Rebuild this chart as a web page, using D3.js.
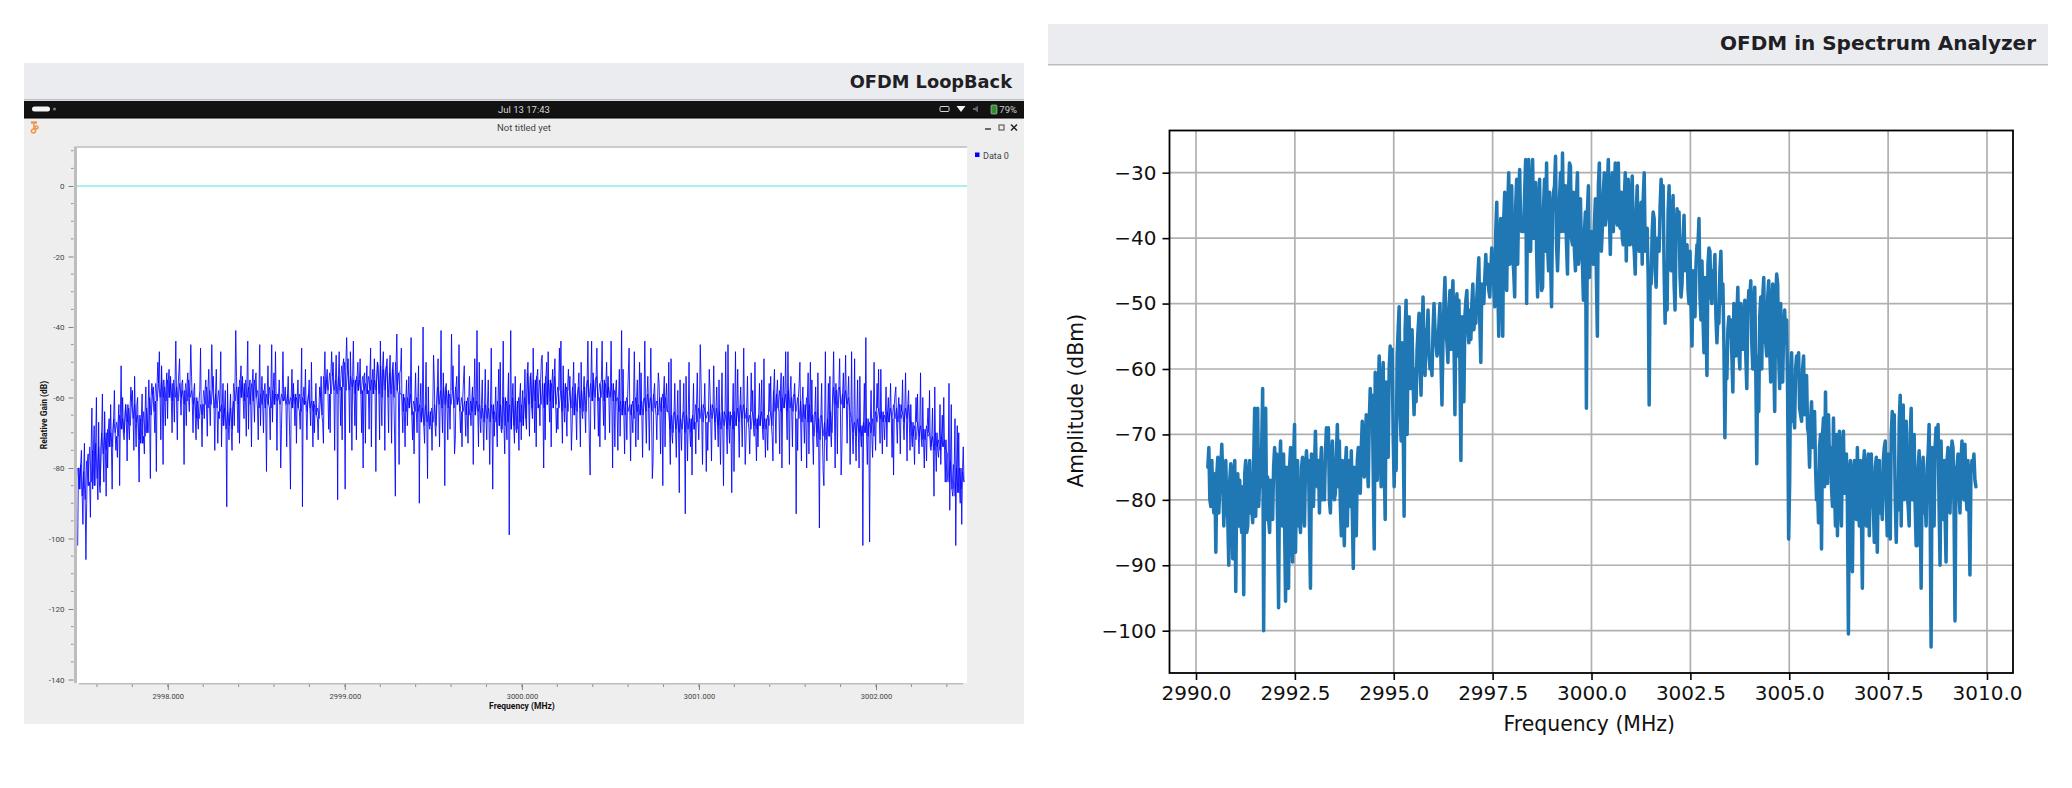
<!DOCTYPE html>
<html>
<head>
<meta charset="utf-8">
<title>OFDM spectra</title>
<script src="https://cdn.jsdelivr.net/npm/d3@7/dist/d3.min.js"></script>
<style>
html,body{margin:0;padding:0;background:#fff;}
svg{display:block;}
text{font-family:"DejaVu Sans",sans-serif;}
</style>
</head>
<body>
<svg id="page" width="2072" height="788"></svg>
<script>
// Loopback capture, one group of four samples per 3 px of trace (dB):
// spike top, lower edge of the dense band, dip bottom, upper edge of the dense band
const loopbackPeaks = [
-80,-75,-73,-76,-63,-68,-60,-67,-59,-64,
-66,-62,-58,-62,-51,-60,-62,-57,-58,-54,
-60,-59,-57,-55,-56,-57,-50,-47,-51,-53,
-52,-54,-44,-53,-49,-55,-53,-45,-54,-56,
-58,-46,-55,-52,-45,-54,-52,-47,-56,-58,
-56,-59,-41,-54,-51,-54,-44,-55,-52,-53,
-45,-54,-56,-51,-45,-53,-47,-55,-47,-57,
-54,-52,-56,-55,-46,-57,-52,-55,-50,-56,
-57,-54,-47,-52,-47,-50,-48,-47,-49,-43,
-49,-47,-44,-50,-49,-53,-51,-46,-52,-49,
-51,-44,-47,-49,-48,-50,-42,-52,-46,-55,
-54,-43,-53,-51,-56,-40,-50,-57,-48,-55,
-49,-41,-53,-56,-42,-51,-54,-45,-55,-51,
-54,-57,-49,-41,-50,-55,-52,-55,-46,-57,
-52,-50,-44,-53,-41,-56,-54,-56,-58,-52,
-50,-53,-46,-52,-49,-48,-50,-47,-52,-49,
-46,-44,-51,-52,-54,-50,-56,-53,-50,-54,
-44,-44,-53,-46,-55,-44,-50,-54,-44,-55,
-52,-41,-52,-53,-46,-47,-55,-50,-53,-44,
-54,-46,-56,-53,-56,-54,-56,-50,-49,-56,
-58,-55,-56,-54,-50,-56,-53,-45,-55,-56,
-52,-58,-51,-57,-55,-53,-47,-45,-56,-47,
-52,-57,-46,-54,-53,-58,-50,-56,-55,-49,
-56,-54,-52,-55,-53,-54,-47,-47,-54,-56,
-56,-50,-57,-53,-50,-55,-57,-53,-56,-47,
-56,-54,-47,-56,-49,-53,-48,-54,-47,-49,
-55,-54,-56,-43,-58,-50,-56,-52,-52,-57,
-60,-56,-59,-57,-60,-55,-53,-58,-62,-60,
-59,-53,-60,-63,-58,-63,-57,-62,-65,-60,
-56,-62,-66,-68,-70,-74];
const loopbackBandLow = [
-86,-88,-89,-85,-84,-85,-83,-85,-76,-75,
-74,-74,-70,-71,-69,-70,-67,-68,-66,-67,
-72,-73,-71,-70,-65,-64,-61,-60,-60,-61,
-60,-61,-60,-61,-60,-62,-61,-60,-62,-66,
-66,-65,-62,-63,-62,-63,-63,-64,-68,-69,
-68,-69,-61,-62,-60,-61,-60,-62,-61,-60,
-63,-62,-63,-62,-63,-62,-61,-62,-61,-62,
-62,-63,-62,-63,-64,-62,-64,-63,-64,-65,
-66,-65,-59,-58,-59,-58,-59,-58,-57,-58,
-58,-57,-59,-58,-59,-58,-59,-58,-59,-58,
-59,-60,-58,-60,-59,-60,-58,-59,-64,-64,
-63,-65,-64,-64,-67,-68,-67,-68,-67,-68,
-62,-63,-62,-63,-62,-63,-62,-64,-64,-65,
-65,-64,-65,-64,-66,-67,-66,-67,-66,-67,
-68,-69,-68,-67,-69,-68,-69,-67,-68,-66,
-62,-63,-61,-63,-62,-63,-62,-61,-63,-62,
-63,-64,-63,-64,-63,-65,-64,-63,-64,-64,
-60,-61,-60,-61,-60,-61,-60,-60,-61,-61,
-64,-65,-65,-64,-65,-66,-64,-65,-65,-64,
-63,-64,-63,-65,-64,-63,-64,-69,-70,-69,
-70,-69,-70,-69,-70,-69,-67,-66,-67,-66,
-67,-66,-67,-68,-69,-68,-69,-68,-69,-68,
-67,-66,-66,-67,-69,-68,-69,-68,-69,-69,
-68,-68,-64,-63,-64,-63,-64,-63,-64,-64,
-66,-67,-66,-67,-67,-71,-70,-72,-71,-72,
-71,-70,-62,-63,-62,-63,-62,-64,-70,-71,
-70,-71,-70,-71,-70,-71,-67,-66,-67,-67,
-67,-66,-66,-67,-66,-67,-66,-67,-71,-72,
-71,-72,-72,-71,-74,-75,-74,-75,-74,-75,
-84,-86,-88,-87,-86,-84];
const loopbackDips = [
-102,-96,-106,-90,-94,-86,-89,-87,-84,-88,
-80,-86,-75,-77,-85,-72,-78,-72,-75,-74,
-84,-73,-76,-70,-83,-70,-81,-72,-79,-68,
-66,-70,-67,-72,-65,-79,-68,-64,-70,-72,
-69,-74,-66,-71,-68,-75,-73,-66,-74,-91,
-72,-75,-68,-70,-73,-66,-71,-69,-74,-67,
-72,-68,-70,-81,-72,-67,-75,-80,-69,-74,
-71,-86,-68,-73,-69,-91,-72,-68,-74,-70,
-72,-67,-73,-69,-70,-75,-89,-68,-72,-86,
-70,-75,-68,-72,-70,-80,-73,-69,-74,-81,
-72,-68,-75,-70,-73,-71,-88,-79,-70,-74,
-68,-72,-76,-70,-90,-73,-83,-69,-75,-71,
-74,-70,-85,-72,-69,-76,-72,-70,-74,-71,
-73,-68,-79,-74,-70,-75,-72,-79,-86,-71,
-74,-70,-76,-72,-99,-73,-70,-75,-72,-69,
-71,-66,-70,-74,-68,-80,-72,-67,-74,-70,
-69,-73,-67,-71,-75,-68,-72,-74,-66,-70,
-73,-82,-69,-71,-74,-68,-72,-70,-80,-74,
-75,-71,-76,-72,-78,-70,-74,-72,-77,-73,
-75,-83,-78,-72,-76,-85,-74,-79,-73,-77,
-87,-75,-93,-78,-74,-82,-76,-72,-79,-81,
-75,-78,-72,-74,-79,-85,-76,-73,-87,-81,
-77,-74,-79,-72,-76,-71,-78,-74,-72,-77,
-75,-71,-78,-73,-76,-80,-72,-79,-74,-93,
-75,-78,-73,-80,-76,-79,-74,-97,-81,-85,
-78,-74,-80,-76,-82,-75,-73,-79,-76,-78,
-80,-74,-102,-79,-101,-77,-75,-73,-76,-72,
-74,-77,-82,-73,-76,-72,-78,-75,-74,-79,
-76,-74,-80,-78,-75,-88,-81,-77,-79,-84,
-83,-92,-85,-102,-90,-96];
const loopbackBandHigh = [
-80,-79,-81,-78,-74,-75,-73,-74,-70,-70,
-69,-70,-66,-67,-65,-66,-62,-63,-61,-62,
-65,-66,-64,-63,-60,-59,-56,-56,-55,-57,
-55,-56,-55,-57,-56,-58,-56,-55,-58,-60,
-61,-62,-58,-57,-58,-57,-59,-58,-62,-63,
-64,-63,-56,-57,-55,-56,-55,-57,-56,-55,
-58,-59,-58,-59,-57,-58,-59,-60,-59,-60,
-59,-60,-59,-60,-59,-60,-61,-59,-61,-62,
-63,-60,-54,-55,-53,-54,-55,-54,-51,-50,
-52,-54,-55,-54,-55,-54,-56,-54,-55,-55,
-50,-51,-52,-51,-53,-52,-50,-53,-59,-60,
-60,-59,-61,-60,-62,-63,-62,-64,-63,-62,
-57,-58,-57,-58,-59,-58,-57,-60,-60,-61,
-60,-61,-60,-61,-62,-63,-62,-63,-62,-64,
-61,-62,-60,-61,-62,-60,-61,-60,-62,-60,
-53,-54,-55,-54,-55,-56,-54,-55,-56,-54,
-57,-58,-56,-57,-58,-57,-59,-57,-58,-57,
-55,-56,-55,-54,-56,-55,-56,-57,-56,-58,
-60,-61,-61,-60,-62,-61,-60,-62,-61,-60,
-59,-60,-59,-61,-60,-59,-60,-64,-65,-64,
-65,-66,-64,-65,-66,-65,-62,-63,-62,-63,
-64,-62,-63,-63,-64,-64,-65,-64,-65,-64,
-63,-62,-62,-63,-65,-64,-66,-65,-64,-66,
-65,-64,-58,-59,-58,-60,-59,-58,-60,-59,
-60,-61,-62,-60,-62,-65,-64,-66,-65,-67,
-66,-64,-57,-58,-57,-59,-58,-60,-66,-67,
-66,-68,-67,-66,-67,-66,-64,-63,-64,-65,
-64,-63,-62,-63,-62,-64,-63,-62,-67,-68,
-67,-68,-69,-68,-70,-71,-70,-72,-71,-72,
-76,-78,-79,-80,-80,-81];
const loopbackStart = 2997.491, loopbackEnd = 3002.497;
const loopbackXTicks = [2998,2999,3000,3001,3002];
const loopbackYTicks = [0,-20,-40,-60,-80,-100,-120,-140];
const referenceGain = 0;

// Spectrum analyzer sweep, one group of four samples per 4 px of trace (dBm)
const analyzerPeaks = [
-72,-74,-73.5,-71.5,-74,-74.5,-74,-76,-77,-74,
-74,-66,-66,-63,-66,-76.5,-72,-73,-71,-73,
-72,-68.5,-74,-73.5,-72.5,-74,-73,-69.5,-72,-69,
-69,-71,-68.5,-71,-72,-74,-72.5,-72,-68,-67,
-63,-64,-60.5,-58,-59,-56.5,-57,-54,-50.5,-49.5,
-52,-54,-54,-51.5,-49,-51,-50,-54,-50,-46,
-48,-46.5,-48.5,-49.5,-49.5,-48,-47,-46,-43,-42.5,
-44,-41.5,-34.5,-37,-33,-30,-32,-31,-29.5,-28,
-28,-28,-31.5,-31,-31,-28.5,-33,-27.5,-30,-27,
-28.5,-29,-30,-34,-36,-32,-39,-34,-28.5,-30,
-28,-30,-28.5,-28.5,-30,-31,-30.5,-32,-34.5,-30,
-38.5,-36,-37,-31,-32,-32,-33.5,-35.5,-36,-36.5,
-41,-42,-41,-37,-43.5,-41.5,-42,-42.5,-42,-47,
-52,-52.5,-50,-47.5,-49.5,-48,-46.5,-47.5,-49,-46,
-46.5,-47,-45.5,-47,-51,-52.5,-57.5,-58,-57.5,-58,
-61,-65,-66.5,-70,-67.5,-63.5,-72,-67.5,-69.5,-69.5,
-73,-74,-74,-72,-72.5,-73,-73,-73.5,-74,-72,
-71,-66.5,-67,-64,-65.5,-68,-66,-70,-72.5,-73.5,
-73,-68.5,-69,-68.5,-71,-72,-71,-72,-73,-71,
-71.5,-74,-73];
const analyzerBandLow = [
-80,-80,-82,-77,-81,-83,-82,-84,-83,-85,
-82,-81,-81,-77,-83,-83,-81,-84,-82,-84,
-84,-84,-84,-83,-82,-84,-80,-77,-80,-79,
-80,-79,-78,-81,-82,-81,-82,-81,-77,-75,
-74,-76,-73,-73,-74,-70,-70,-69,-67,-68,
-63,-62,-60,-60,-58,-58,-59,-56,-59,-54,
-56,-55,-58,-59,-58,-54,-54,-52,-53,-49,
-48,-46,-47,-46,-45,-44,-43,-44,-38,-38,
-42,-40,-42,-42,-42,-41,-43,-41,-39,-38,
-41,-40,-42,-42,-44,-46,-43,-46,-40,-38,
-36,-39,-37,-38,-40,-41,-40,-42,-41,-42,
-46,-45,-45,-41,-45,-44,-44,-47,-46,-45,
-48,-50,-50,-49,-52,-52,-49,-52,-52,-56,
-58,-58,-56,-57,-56,-58,-56,-60,-58,-56,
-56,-57,-58,-58,-59,-64,-68,-67,-66,-67,
-69,-72,-75,-78,-78,-75,-78,-78,-80,-79,
-81,-81,-80,-81,-82,-80,-81,-81,-82,-80,
-80,-81,-80,-78,-80,-79,-80,-81,-81,-82,
-80,-81,-80,-81,-80,-82,-79,-81,-79,-78,
-79,-81,-77];
const analyzerDips = [
-81,-82,-88,-78,-84,-90,-89,-94,-85,-94.5,
-84,-83.5,-82.5,-78,-100,-85,-83,-96.5,-84,-95.5,
-93.5,-89.5,-88,-85,-84,-93.5,-81,-78,-82,-80,
-82,-80,-79,-85.5,-87,-84,-90.5,-85.5,-79,-76.5,
-78,-87.5,-77,-78,-83,-73.5,-78,-75.5,-71,-82.5,
-70,-67,-65,-64,-61,-60,-61,-58,-65.5,-56,
-59,-57,-67,-74,-65,-56,-55.5,-53,-59,-50,
-49,-47,-50.5,-55,-55,-48,-45,-49,-39,-39,
-50,-42,-49,-48,-47.5,-45,-50.5,-45,-40,-39,
-45.5,-41,-45,-44,-49.5,-66,-44,-55,-42,-38.5,
-36.5,-42.5,-38,-38.5,-41,-43.5,-41,-45.5,-42,-44,
-65.5,-47,-47.5,-42,-53,-51,-45,-51,-49,-47,
-50,-56.5,-52,-52.5,-57.5,-61,-50,-56,-53,-70.5,
-61.5,-63.5,-58,-60,-57,-63,-60,-74.5,-66.5,-60,
-58,-62,-66.5,-63,-62,-86,-77.5,-69,-67,-68,
-70,-75,-80,-83.5,-87.5,-77.5,-81,-84,-85.5,-84,
-100.5,-91,-83,-84,-93.5,-84,-85.5,-86.5,-88,-83,
-85.5,-86,-86.5,-81.5,-84,-81,-84,-87,-87,-93.5,
-84,-102.5,-84,-90,-83,-89.5,-82,-98.5,-82,-80,
-81.5,-91.5,-78];
const analyzerBandHigh = [
-75,-76,-76,-75,-76,-77,-76,-77,-78,-76,
-76,-74,-74,-72,-74,-77,-75,-75,-75,-75,
-75,-74,-76,-75,-75,-76,-75,-74,-75,-73,
-73,-74,-73,-74,-75,-76,-75,-74,-72,-71,
-68,-67,-64,-62,-62,-60,-60,-58,-56,-54,
-56,-57,-57,-55,-54,-55,-54,-57,-53,-50,
-51,-50,-51,-52,-52,-51,-50,-49,-47,-46,
-47,-45,-39,-41,-37,-35,-36,-35,-34,-33,
-33,-32,-35,-35,-35,-33,-36,-32,-34,-32,
-33,-33,-34,-37,-39,-36,-41,-38,-32,-33,
-32,-34,-33,-33,-34,-35,-34,-36,-38,-34,
-41,-39,-40,-35,-36,-36,-37,-39,-39,-40,
-44,-45,-44,-41,-46,-44,-45,-46,-45,-50,
-54,-55,-52,-50,-52,-51,-49,-50,-52,-49,
-49,-50,-49,-50,-54,-56,-60,-60,-60,-60,
-64,-68,-69,-72,-70,-67,-74,-70,-72,-72,
-75,-76,-76,-74,-75,-75,-75,-75,-76,-74,
-73,-70,-70,-68,-70,-71,-70,-73,-75,-76,
-75,-72,-72,-72,-74,-74,-74,-75,-75,-74,
-74,-76,-75];
const analyzerStart = 2990.3, analyzerEnd = 3009.72;
const analyzerXTicks = [2990,2992.5,2995,2997.5,3000,3002.5,3005,3007.5,3010];
const analyzerYTicks = [-30,-40,-50,-60,-70,-80,-90,-100];

const panels = {
  left:  {x:24,  y:63, w:1000, h:37, title:"OFDM LoopBack", titleEnd:1012, size:17.8, dy:6.5},
  right: {x:1048,y:24, w:1000, h:41, title:"OFDM in Spectrum Analyzer", titleEnd:2036, size:20, dy:5.5}
};

const svg = d3.select("#page");

// Interleaves the four envelope arrays into one continuous trace. Each group is
// rotated by an amount taken from its own top and bottom so that spikes do not
// line up on a fixed pitch.
function weave(top, bandLow, bottom, bandHigh){
  return d3.merge(top.map((v,i)=>{
    const group = [v,bandLow[i],bottom[i],bandHigh[i]];
    const turn = Math.round(Math.abs(v)+Math.abs(bottom[i])*3) % 4;
    return group.slice(turn).concat(group.slice(0,turn));
  }));
}

// Panel banners
function banner(p){
  svg.append("rect").attr("x",p.x).attr("y",p.y).attr("width",p.w).attr("height",p.h).attr("fill","#ebecf0");
  svg.append("rect").attr("x",p.x).attr("y",p.y+p.h-1).attr("width",p.w).attr("height",1.5).attr("fill","#bcbec2");
  svg.append("text").attr("x",p.titleEnd).attr("y",p.y+p.h/2+p.dy)
    .attr("text-anchor","end").attr("font-size",p.size).attr("font-weight",700)
    .attr("fill","#1f2024").text(p.title);
}
banner(panels.left);
banner(panels.right);

// Left panel: screenshot of the desktop running the loopback flowgraph
const desk = svg.append("g").attr("id","loopback");
desk.append("rect").attr("x",24).attr("y",118).attr("width",1000).attr("height",606).attr("fill","#eeeeee");
desk.append("rect").attr("x",24).attr("y",101).attr("width",1000).attr("height",17).attr("fill","#121212");
desk.append("rect").attr("x",24).attr("y",117.5).attr("width",1000).attr("height",1).attr("fill","#000");
desk.append("rect").attr("x",32).attr("y",106.5).attr("width",18).attr("height",5).attr("rx",2.5).attr("fill","#f4f4f4");
desk.append("circle").attr("cx",54.5).attr("cy",109).attr("r",1.6).attr("fill","#777");
desk.append("text").attr("x",524).attr("y",112.5).attr("text-anchor","middle")
  .attr("font-size",9.5).attr("fill","#d8d8d8").style("font-family","Roboto,sans-serif").text("Jul 13  17:43");
desk.append("text").attr("x",524).attr("y",130.5).attr("text-anchor","middle")
  .attr("font-size",9.5).attr("fill","#444").style("font-family","Roboto,sans-serif").text("Not titled yet");

// Flowgraph icon in the title bar
const icon = desk.append("g").attr("fill","none").attr("stroke","#f2954a").attr("stroke-width",1.6);
icon.append("line").attr("x1",31).attr("x2",37).attr("y1",122.5).attr("y2",122.5).attr("stroke-width",2.4);
icon.append("line").attr("x1",34).attr("x2",34).attr("y1",123).attr("y2",129);
icon.append("circle").attr("cx",33.5).attr("cy",131).attr("r",2);
icon.append("circle").attr("cx",36.5).attr("cy",127.5).attr("r",1.5);

// Status icons on the top bar
desk.append("rect").attr("x",940).attr("y",106.5).attr("width",9).attr("height",5).attr("rx",1).attr("fill","none").attr("stroke","#d5d5d5");
desk.append("path").attr("d","M956.5,106 h9 l-4.5,6 z").attr("fill","#f2f2f2");
desk.append("path").attr("d","M973,108 h2 l3,-2.5 v7 l-3,-2.5 h-2 z").attr("fill","#666");
desk.append("rect").attr("x",991).attr("y",105).attr("width",6).attr("height",9).attr("rx",1).attr("fill","#2f8f2f").attr("stroke","#ccc").attr("stroke-width",0.6);
desk.append("text").attr("x",1017).attr("y",112.5).attr("text-anchor","end").attr("font-size",9.5)
  .attr("fill","#cfcfcf").style("font-family","Roboto,sans-serif").text("79%");

// Window buttons
desk.append("line").attr("x1",985).attr("x2",991).attr("y1",129).attr("y2",129).attr("stroke","#333").attr("stroke-width",1.4);
desk.append("rect").attr("x",999).attr("y",125).attr("width",5).attr("height",5).attr("fill","none").attr("stroke","#444");
desk.append("path").attr("d","M1011,124.5 l6,6 M1017,124.5 l-6,6").attr("stroke","#222").attr("stroke-width",1.5);

// Legend
desk.append("rect").attr("x",975).attr("y",152.5).attr("width",4.5).attr("height",4.5).attr("fill","#0000ff");
desk.append("text").attr("x",983).attr("y",159).attr("font-size",9).attr("fill","#444")
  .style("font-family","Roboto,sans-serif").text("Data 0");

const lx = d3.scaleLinear().domain([2998,3002]).range([167.8,876]);
const ly = d3.scaleLinear().domain([0,-140]).range([186,679.5]);
const plotL = {x0:77, x1:967, y0:147.5, y1:683};

desk.append("rect").attr("x",plotL.x0).attr("y",plotL.y0).attr("width",plotL.x1-plotL.x0).attr("height",plotL.y1-plotL.y0).attr("fill","#fff");
desk.append("line").attr("x1",plotL.x0).attr("x2",plotL.x1).attr("y1",plotL.y0-.5).attr("y2",plotL.y0-.5).attr("stroke","#bdbdbd").attr("stroke-width",1.5);

function styleSmallAxis(g){
  g.selectAll("text").attr("fill","#444").style("font-family","Roboto,sans-serif");
  g.selectAll("line").attr("stroke","#555").attr("stroke-width",0.7);
}
const lyAxis = desk.append("g").attr("transform",`translate(${plotL.x0-3.5},0)`)
  .call(d3.axisLeft(ly).tickValues(loopbackYTicks).tickSize(5).tickPadding(4).tickFormat(d=>String(d)));
lyAxis.selectAll("text").attr("font-size",8);
lyAxis.select(".domain").remove();
styleSmallAxis(lyAxis);
const lyMinor = d3.range(10,-141,-5).filter(d=>d%20!==0);
desk.append("g").selectAll("line").data(lyMinor).join("line")
  .attr("x1",plotL.x0-6).attr("x2",plotL.x0-3.5).attr("y1",d=>ly(d)).attr("y2",d=>ly(d))
  .attr("stroke","#666").attr("stroke-width",0.7);
desk.append("rect").attr("x",plotL.x0-3).attr("y",plotL.y0-1).attr("width",3).attr("height",plotL.y1-plotL.y0+1).attr("fill","#bdbdbd");

const lxAxis = desk.append("g").attr("transform",`translate(0,${plotL.y1+1})`)
  .call(d3.axisBottom(lx).tickValues(loopbackXTicks).tickSize(6).tickPadding(4).tickFormat(d3.format(".3f")));
lxAxis.selectAll("text").attr("font-size",7.5);
lxAxis.select(".domain").remove();
styleSmallAxis(lxAxis);
const lxMinor = d3.range(2997.6,3002.45,0.2);
desk.append("g").selectAll("line").data(lxMinor).join("line")
  .attr("x1",d=>lx(d)).attr("x2",d=>lx(d)).attr("y1",plotL.y1+1).attr("y2",plotL.y1+4)
  .attr("stroke","#666").attr("stroke-width",0.7);
desk.append("rect").attr("x",plotL.x0+2).attr("y",plotL.y1).attr("width",plotL.x1-plotL.x0-6).attr("height",1.5).attr("fill","#bdbdbd");

desk.append("text").attr("x",lx(3000)).attr("y",709).attr("text-anchor","middle").attr("font-size",8.5)
  .attr("font-weight",700).attr("fill","#111").style("font-family","Roboto,sans-serif").text("Frequency (MHz)");
desk.append("text").attr("transform",`translate(47,415) rotate(-90)`).attr("text-anchor","middle").attr("font-size",8.5)
  .attr("font-weight",700).attr("fill","#111").style("font-family","Roboto,sans-serif").text("Relative Gain (dB)");

desk.append("line").attr("x1",plotL.x0).attr("x2",plotL.x1).attr("y1",ly(referenceGain)).attr("y2",ly(referenceGain))
  .attr("stroke","#8fe9e9").attr("stroke-width",1.6);

const loopbackValues = weave(loopbackPeaks,loopbackBandLow,loopbackDips,loopbackBandHigh);
const loopbackStep = (loopbackEnd-loopbackStart)/(loopbackValues.length-1);
const lLine = d3.line().x((d,i)=>lx(loopbackStart+i*loopbackStep)).y(d=>ly(d));
desk.append("path").datum(loopbackValues).attr("d",lLine).attr("fill","none")
  .attr("stroke","#0000ff").attr("stroke-width",0.85).attr("stroke-linejoin","miter");

// Second pass over the dense band so it reads darker than the spikes
const loopbackBand = d3.merge(loopbackBandHigh.map((v,i)=>[v,loopbackBandLow[i]]));
const bandStep = (loopbackEnd-loopbackStart)/(loopbackBand.length-1);
const bandLine = d3.line().x((d,i)=>lx(loopbackStart+i*bandStep)).y(d=>ly(d));
desk.append("path").datum(loopbackBand).attr("d",bandLine).attr("fill","none")
  .attr("stroke","#0000ff").attr("stroke-width",0.7);

// Right panel: spectrum analyzer trace
const rx = d3.scaleLinear().domain([2990,3010]).range([1196,1987]);
const ry = d3.scaleLinear().domain([-30,-100]).range([172.7,630.7]);
const frame = {x0:1169.5, x1:2013, y0:130.5, y1:673};
const spec = svg.append("g").attr("id","analyzer");

spec.append("g").selectAll("line").data(analyzerXTicks).join("line")
  .attr("x1",d=>rx(d)).attr("x2",d=>rx(d)).attr("y1",frame.y0).attr("y2",frame.y1)
  .attr("stroke","#b0b0b0").attr("stroke-width",1.7);
spec.append("g").selectAll("line").data(analyzerYTicks).join("line")
  .attr("x1",frame.x0).attr("x2",frame.x1).attr("y1",d=>ry(d)).attr("y2",d=>ry(d))
  .attr("stroke","#b0b0b0").attr("stroke-width",1.7);

const analyzerValues = weave(analyzerPeaks,analyzerBandLow,analyzerDips,analyzerBandHigh);
const analyzerStep = (analyzerEnd-analyzerStart)/(analyzerValues.length-1);
const rLine = d3.line().x((d,i)=>rx(analyzerStart+i*analyzerStep)).y(d=>ry(d));
spec.append("path").datum(analyzerValues).attr("d",rLine).attr("fill","none")
  .attr("stroke","#1f77b4").attr("stroke-width",3.5).attr("stroke-linejoin","round").attr("stroke-linecap","round");

spec.append("rect").attr("x",frame.x0).attr("y",frame.y0).attr("width",frame.x1-frame.x0).attr("height",frame.y1-frame.y0)
  .attr("fill","none").attr("stroke","#000").attr("stroke-width",1.8);

const rxAxis = spec.append("g").attr("transform",`translate(0,${frame.y1})`)
  .call(d3.axisBottom(rx).tickValues(analyzerXTicks).tickSize(7).tickPadding(6).tickFormat(d3.format(".1f")));
const ryAxis = spec.append("g").attr("transform",`translate(${frame.x0},0)`)
  .call(d3.axisLeft(ry).tickValues(analyzerYTicks).tickSize(7).tickPadding(6));
[rxAxis,ryAxis].forEach(g=>{
  g.select(".domain").remove();
  g.selectAll("line").attr("stroke","#000").attr("stroke-width",1.6);
  g.selectAll("text").attr("font-size",20).attr("fill","#111");
});
spec.append("text").attr("x",(frame.x0+frame.x1)/2-2).attr("y",731).attr("text-anchor","middle")
  .attr("font-size",20.4).attr("fill","#111").text("Frequency (MHz)");
spec.append("text").attr("transform",`translate(1083,${(frame.y0+frame.y1)/2-1}) rotate(-90)`).attr("text-anchor","middle")
  .attr("font-size",20.4).attr("fill","#111").text("Amplitude (dBm)");
</script>
</body>
</html>
